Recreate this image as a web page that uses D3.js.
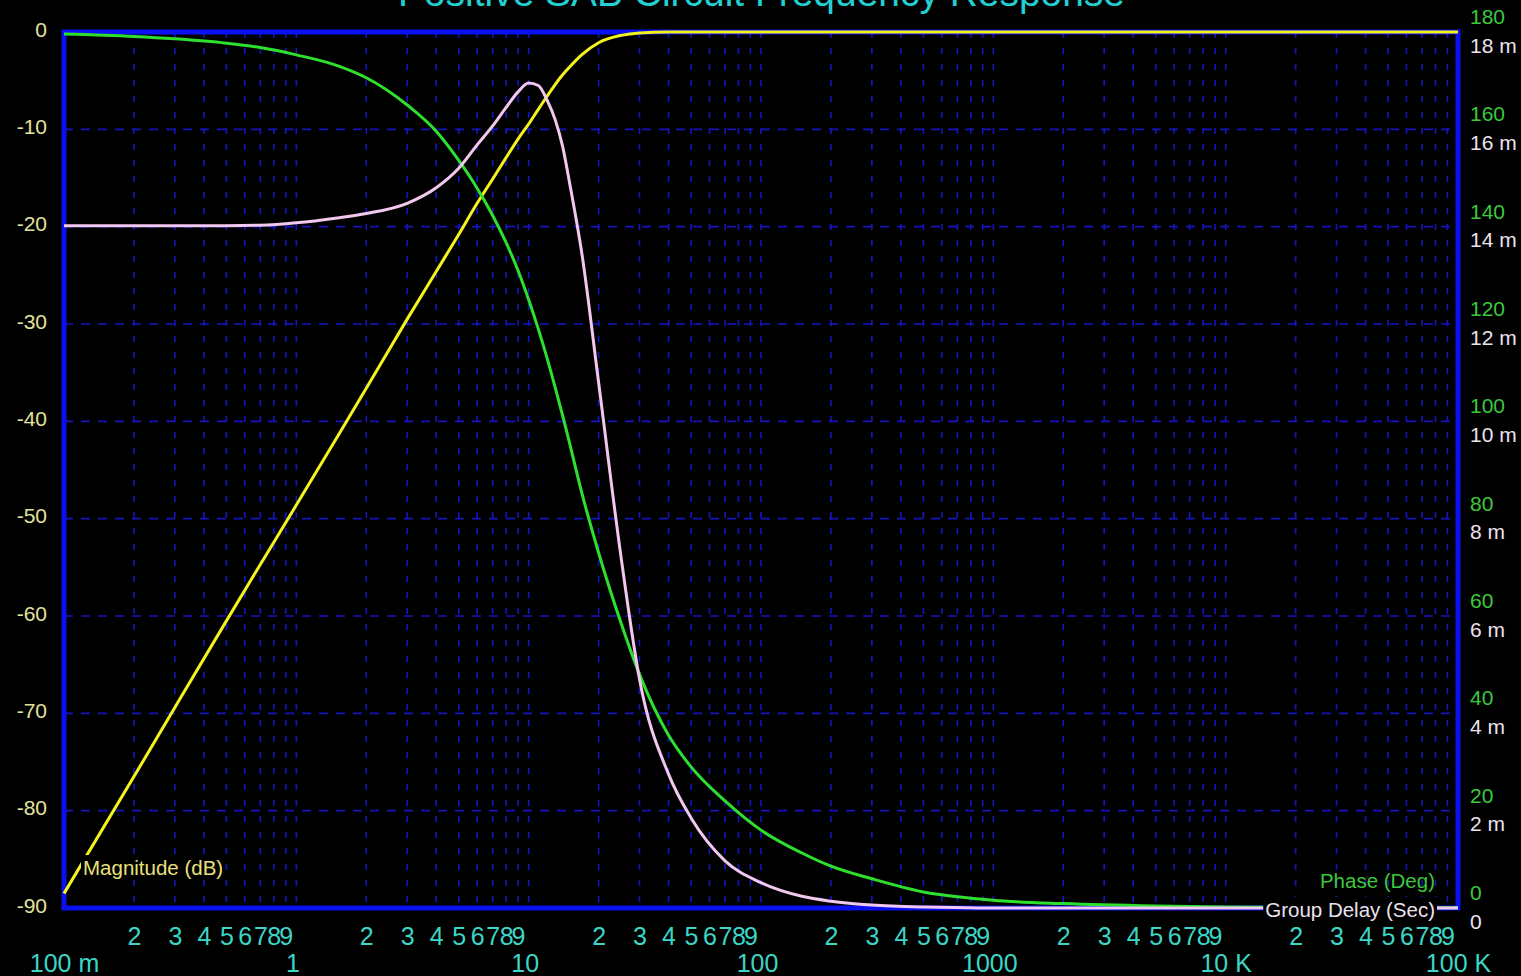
<!DOCTYPE html>
<html>
<head>
<meta charset="utf-8">
<script src="https://cdn.jsdelivr.net/npm/d3@7"></script>
<style>
  html, body { margin: 0; padding: 0; background: #000; overflow: hidden; }
  svg { display: block; }
  text { font-family: "Liberation Sans", Arial, sans-serif; }
</style>
</head>
<body>
<svg id="chart" width="1521" height="976"></svg>
<script>
// frequency points (Hz) shared by the three traces
const freq = [0.1, 0.2, 0.3, 0.5, 0.7, 1, 1.5, 2, 3, 4, 5, 6, 7, 8, 9, 10, 11, 12, 13, 14, 15, 17, 20, 25, 30, 40, 50, 70, 100, 150, 200, 300, 500, 700, 1000, 2000, 5000, 10000, 100000];

// magnitude in dB (left axis)
const magnitude = [-88.5, -76.5, -69.4, -60.5, -54.7, -48.6, -41.6, -36.6, -29.5, -24.6, -20.8, -17.6, -15.1, -12.9, -11.0, -9.45, -7.95, -6.6, -5.4, -4.4, -3.6, -2.3, -1.1, -0.35, -0.1, 0, 0, 0, 0, 0, 0, 0, 0, 0, 0, 0, 0, 0, 0];

// phase in degrees (right axis, green)
const phase = [179.6, 179.1, 178.6, 177.7, 176.8, 175.3, 173.1, 170.6, 165.0, 159.6, 153.6, 147.9, 142.3, 136.7, 131.0, 125, 119, 113, 107, 101.2, 95.5, 85, 73, 58.5, 48, 35.5, 29, 22, 16, 11.3, 8.6, 6, 3.3, 2.3, 1.6, 0.9, 0.4, 0.2, 0.05];

// group delay in ms (right axis, white)
const delayMs = [14.02, 14.02, 14.02, 14.02, 14.03, 14.08, 14.18, 14.27, 14.48, 14.8, 15.2, 15.68, 16.07, 16.45, 16.77, 16.95, 16.9, 16.6, 16.2, 15.65, 14.9, 13.4, 10.8, 7.2, 4.7, 2.75, 1.85, 0.97, 0.52, 0.24, 0.14, 0.06, 0.02, 0.01, 0, 0, 0, 0, 0];

const magTicks = [0, -10, -20, -30, -40, -50, -60, -70, -80, -90];
const phaseTicks = [180, 160, 140, 120, 100, 80, 60, 40, 20, 0];
const delayTicks = [18, 16, 14, 12, 10, 8, 6, 4, 2, 0];
const delayLabels = ["18 m", "16 m", "14 m", "12 m", "10 m", "8 m", "6 m", "4 m", "2 m", "0"];
const decades = [0.1, 1, 10, 100, 1000, 10000, 100000];
const decadeLabels = ["100 m", "1", "10", "100", "1000", "10 K", "100 K"];
const minorDigits = [2, 3, 4, 5, 6, 7, 8, 9];

const title = "Positive SAB Circuit Frequency Response";

const W = 1521, H = 976;
const margin = { top: 32, right: 63, bottom: 68, left: 64 };
const x0 = margin.left, x1 = W - margin.right;
const y0 = margin.top, y1 = H - margin.bottom;

const svg = d3.select('#chart');
svg.append('rect').attr('width', W).attr('height', H).attr('fill', '#000');

const x = d3.scaleLog().domain([0.1, 100000]).range([x0, x1]);
const yMag = d3.scaleLinear().domain([-90, 0]).range([y1, y0]);
const yPhase = d3.scaleLinear().domain([0, 180]).range([y1, y0]);
const yDelay = d3.scaleLinear().domain([0, 18]).range([y1, y0]);

// minor tick positions 2..9 in every decade
let minorTicks = [];
decades.slice(0, -1).forEach(d => minorDigits.forEach(m => minorTicks.push(d * m)));

// grid
const grid = svg.append('g');
minorTicks.concat(decades.slice(1, -1)).forEach(f => {
  grid.append('line')
    .attr('x1', x(f)).attr('x2', x(f))
    .attr('y1', y0).attr('y2', y1)
    .attr('stroke', '#1515bf')
    .attr('stroke-width', 1.6)
    .attr('stroke-dasharray', '6,10');
});
magTicks.slice(1, -1).forEach(v => {
  grid.append('line')
    .attr('x1', x0).attr('x2', x1)
    .attr('y1', yMag(v)).attr('y2', yMag(v))
    .attr('stroke', '#1515bf')
    .attr('stroke-width', 1.6)
    .attr('stroke-dasharray', '9,8');
});

// frame
svg.append('rect')
  .attr('x', x0).attr('y', y0)
  .attr('width', x1 - x0).attr('height', y1 - y0)
  .attr('fill', 'none')
  .attr('stroke', '#0a10f0')
  .attr('stroke-width', 5);

// title (only its lower part is on the page, as in the original)
svg.append('text')
  .attr('x', 398).attr('y', 6)
  .attr('textLength', 727)
  .attr('lengthAdjust', 'spacingAndGlyphs')
  .attr('fill', '#22d0d4')
  .style('font-size', '38px')
  .text(title);

// left axis
const leftAxis = svg.append('g')
  .attr('transform', `translate(${x0},0)`)
  .call(d3.axisLeft(yMag).tickValues(magTicks).tickSize(0).tickPadding(17)
    .tickFormat(d => String(d)));
leftAxis.select('.domain').remove();
leftAxis.selectAll('text')
  .attr('fill', '#e2e29e')
  .attr('dy', '0.2em')
  .style('font-size', '21px');

// right axes: phase above the tick, delay below it
const phaseAxis = svg.append('g')
  .attr('transform', `translate(${x1},0)`)
  .call(d3.axisRight(yPhase).tickValues(phaseTicks).tickSize(0).tickPadding(12));
phaseAxis.select('.domain').remove();
phaseAxis.selectAll('text')
  .attr('fill', '#3cc83c')
  .attr('dy', -8.5)
  .style('font-size', '21px');

const delayAxis = svg.append('g')
  .attr('transform', `translate(${x1},0)`)
  .call(d3.axisRight(yDelay).tickValues(delayTicks).tickSize(0).tickPadding(12)
    .tickFormat((d, i) => delayLabels[i]));
delayAxis.select('.domain').remove();
delayAxis.selectAll('text')
  .attr('fill', '#ece2ee')
  .attr('dy', 20)
  .style('font-size', '21px');

// bottom axes
const minorAxis = svg.append('g')
  .attr('transform', `translate(0,${y1})`)
  .call(d3.axisBottom(x).tickValues(minorTicks).tickSize(0)
    .tickFormat(d => String(Math.round(d / Math.pow(10, Math.floor(Math.log10(d) + 1e-9))))));
minorAxis.select('.domain').remove();
minorAxis.selectAll('text')
  .attr('fill', '#3cd6c6')
  .attr('y', 37).attr('dy', 0)
  .style('font-size', '25px');

const majorAxis = svg.append('g')
  .attr('transform', `translate(0,${y1})`)
  .call(d3.axisBottom(x).tickValues(decades).tickSize(0)
    .tickFormat((d, i) => decadeLabels[i]));
majorAxis.select('.domain').remove();
majorAxis.selectAll('text')
  .attr('fill', '#3cd6c6')
  .attr('y', 64).attr('dy', 0)
  .attr('dx', (d, i) => /[mK]/.test(decadeLabels[i]) ? 0 : -4)
  .style('font-size', '25px');

// traces
const pts = (vals, ys) => freq.map((f, i) => [x(f), ys(vals[i])]);
const line = d3.line().curve(d3.curveMonotoneX);

svg.append('path')
  .attr('d', line(pts(magnitude, yMag)))
  .attr('fill', 'none').attr('stroke', '#f4f41c').attr('stroke-width', 3);

svg.append('path')
  .attr('d', line(pts(phase, yPhase)))
  .attr('fill', 'none').attr('stroke', '#2ee02e').attr('stroke-width', 3);

svg.append('path')
  .attr('d', line(pts(delayMs, yDelay)))
  .attr('fill', 'none').attr('stroke', '#f2c8f0').attr('stroke-width', 3);

// trace labels
function label(txt, px, py, anchor, color, boxed) {
  const g = svg.append('g');
  const t = g.append('text')
    .attr('x', px).attr('y', py)
    .attr('text-anchor', anchor)
    .attr('fill', color)
    .style('font-size', '20.5px')
    .text(txt);
  if (boxed) {
    const b = t.node().getBBox();
    g.insert('rect', 'text')
      .attr('x', b.x - 2).attr('y', b.y - 1)
      .attr('width', b.width + 4).attr('height', b.height + 2)
      .attr('fill', '#000');
  }
}
label('Magnitude (dB)', 83, 875, 'start', '#e8e07a', true);
label('Phase (Deg)', 1435, 888, 'end', '#3cc83c', false);
label('Group Delay (Sec)', 1435, 917, 'end', '#ece2ee', true);
</script>
</body>
</html>
